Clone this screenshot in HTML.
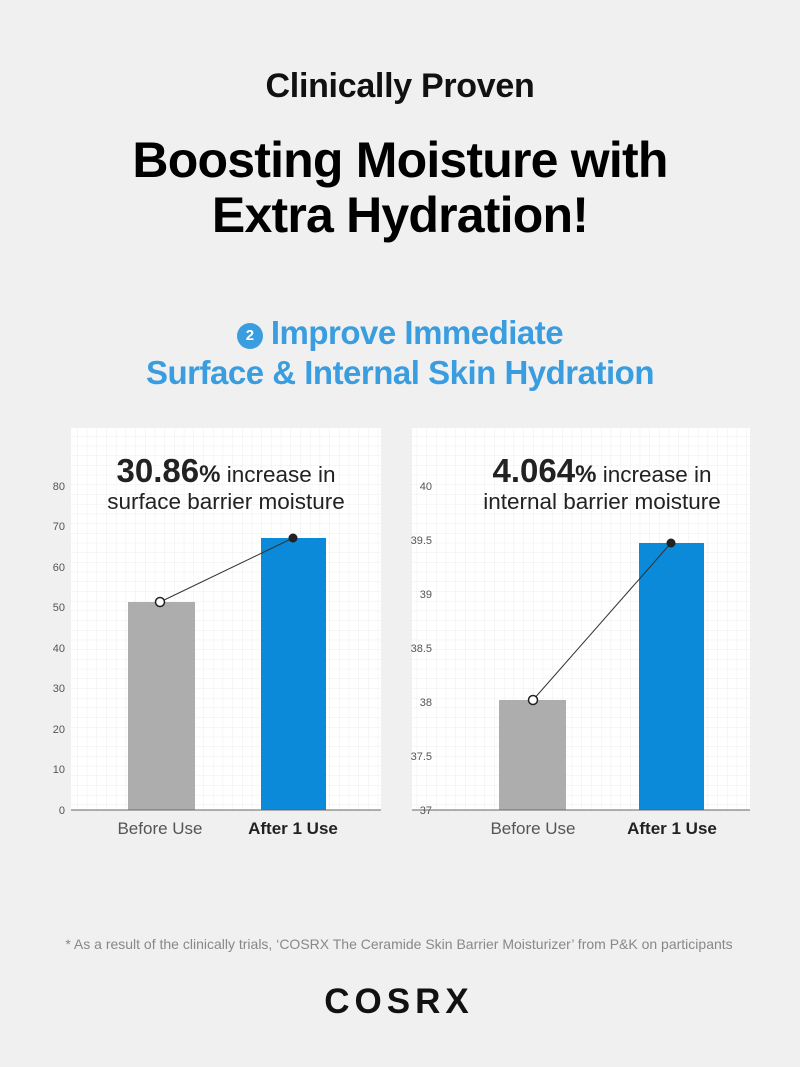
<!DOCTYPE html>
<html><head><meta charset="utf-8"><style>
body{margin:0;width:800px;height:1067px;background:#f0f0f0;font-family:"Liberation Sans",sans-serif;position:relative;overflow:hidden}
.t{position:absolute;left:0;width:800px;text-align:center;white-space:nowrap}
</style></head><body>
<div class="t" style="top:67px;font-size:34px;font-weight:bold;color:#111;letter-spacing:-0.3px">Clinically Proven</div>
<div class="t" style="top:133px;font-size:50px;font-weight:bold;color:#000;line-height:55px;letter-spacing:-0.8px">Boosting Moisture with<br>Extra Hydration!</div>
<div class="t" style="top:313px;font-size:33px;font-weight:bold;color:#3a9de0;line-height:40px;letter-spacing:-0.5px"><span style="display:inline-block;width:26px;height:26px;border-radius:50%;background:#3a9de0;color:#fff;font-size:15px;line-height:26px;vertical-align:4px;margin-right:8px;letter-spacing:0">2</span>Improve Immediate<br>Surface &amp; Internal Skin Hydration</div>
<svg width="800" height="1067" style="position:absolute;left:0;top:0" font-family="Liberation Sans, sans-serif">
<defs><pattern id="g" width="9.7" height="9.7" patternUnits="userSpaceOnUse"><path d="M9.7 0V9.7H0" fill="none" stroke="#ececec" stroke-width="1"/></pattern></defs>
<rect x="71" y="428" width="310" height="382" fill="#fff"/>
<rect x="71" y="428" width="310" height="382" fill="url(#g)"/>
<rect x="412" y="428" width="338" height="382" fill="#fff"/>
<rect x="412" y="428" width="338" height="382" fill="url(#g)"/>
<g font-size="11" fill="#555" text-anchor="end">
<text x="65" y="814">0</text><text x="65" y="773">10</text><text x="65" y="733">20</text><text x="65" y="692">30</text><text x="65" y="652">40</text><text x="65" y="611">50</text><text x="65" y="571">60</text><text x="65" y="530">70</text><text x="65" y="490">80</text>
<text x="432" y="814">37</text><text x="432" y="760">37.5</text><text x="432" y="706">38</text><text x="432" y="652">38.5</text><text x="432" y="598">39</text><text x="432" y="544">39.5</text><text x="432" y="490">40</text>
</g>
<rect x="128" y="602" width="67" height="208" fill="#adadad"/>
<rect x="261" y="538" width="65" height="272" fill="#0a8ad8"/>
<rect x="499" y="700" width="67" height="110" fill="#adadad"/>
<rect x="639" y="543" width="65" height="267" fill="#0a8ad8"/>
<line x1="71" y1="810" x2="381" y2="810" stroke="#666"/>
<line x1="412" y1="810" x2="750" y2="810" stroke="#666"/>
<line x1="160" y1="602" x2="293" y2="538" stroke="#333"/>
<line x1="533" y1="700" x2="671" y2="543" stroke="#333"/>
<circle cx="160" cy="602" r="4.5" fill="#fff" stroke="#222" stroke-width="1.5"/>
<circle cx="293" cy="538" r="4.5" fill="#222"/>
<circle cx="533" cy="700" r="4.5" fill="#fff" stroke="#222" stroke-width="1.5"/>
<circle cx="671" cy="543" r="4.5" fill="#222"/>
<g text-anchor="middle" fill="#222">
<text x="226" y="482" font-size="22.5"><tspan font-size="33" font-weight="bold">30.86</tspan><tspan font-size="24" font-weight="bold">%</tspan> increase in</text>
<text x="226" y="509" font-size="22.5">surface barrier moisture</text>
<text x="602" y="482" font-size="22.5"><tspan font-size="33" font-weight="bold">4.064</tspan><tspan font-size="24" font-weight="bold">%</tspan> increase in</text>
<text x="602" y="509" font-size="22.5">internal barrier moisture</text>
<text x="160" y="834" font-size="17" fill="#555">Before Use</text>
<text x="293" y="834" font-size="17" font-weight="bold">After 1 Use</text>
<text x="533" y="834" font-size="17" fill="#555">Before Use</text>
<text x="672" y="834" font-size="17" font-weight="bold">After 1 Use</text>
<text x="399" y="949" font-size="14" fill="#888">* As a result of the clinically trials, ‘COSRX The Ceramide Skin Barrier Moisturizer’ from P&amp;K on participants</text>
<text x="399" y="1013" font-size="35" font-weight="bold" fill="#111" letter-spacing="5">COSRX</text>
</g>
</svg>
</body></html>
